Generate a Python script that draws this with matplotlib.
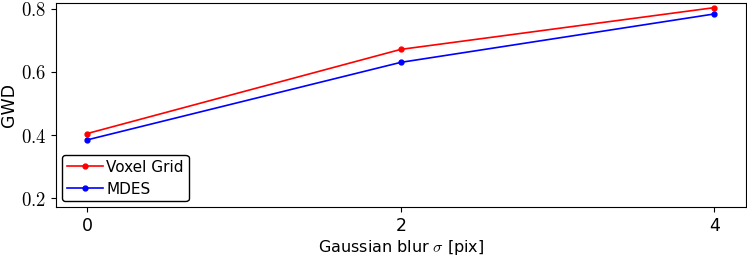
import matplotlib
matplotlib.use("Agg")
import matplotlib.pyplot as plt
from matplotlib.ticker import FuncFormatter

plt.rcParams["mathtext.fontset"] = "cm"
plt.rcParams["font.family"] = "DejaVu Sans"

blur_sigma = [0, 2, 4]
voxel_grid = [0.405, 0.671, 0.803]
mdes = [0.385, 0.630, 0.783]
y_ticks = [0.2, 0.4, 0.6, 0.8]

fig, ax = plt.subplots(figsize=(7.47, 2.59), dpi=100)
ax.plot(blur_sigma, voxel_grid, color="red", marker="o", markersize=3.5, linewidth=1.2, label="Voxel Grid")
ax.plot(blur_sigma, mdes, color="blue", marker="o", markersize=3.5, linewidth=1.2, label="MDES")

ax.set_xticks(blur_sigma)
ax.set_yticks(y_ticks)
ax.set_ylim(0.172, 0.819)
ax.set_xlim(-0.2, 4.2)
ax.yaxis.set_major_formatter(FuncFormatter(lambda v, _: r"$%.1f$" % v))
ax.tick_params(axis="y", labelsize=13.5)
ax.tick_params(axis="x", labelsize=12.5)
ax.set_xlabel(r"Gaussian blur $\sigma$ [pix]", fontsize=11.5, labelpad=2)
ax.set_ylabel("GWD", fontsize=12.5, labelpad=2)

leg = ax.legend(loc="lower left", fontsize=11, fancybox=True, framealpha=1,
                handlelength=2.4, handletextpad=0.2, borderpad=0.3, labelspacing=0.45,
                borderaxespad=0.4)
leg.get_frame().set_edgecolor("black")
leg.get_frame().set_linewidth(1.0)

fig.subplots_adjust(left=0.075, right=0.998, top=0.99, bottom=0.2)
fig.savefig("out.png", dpi=100)
